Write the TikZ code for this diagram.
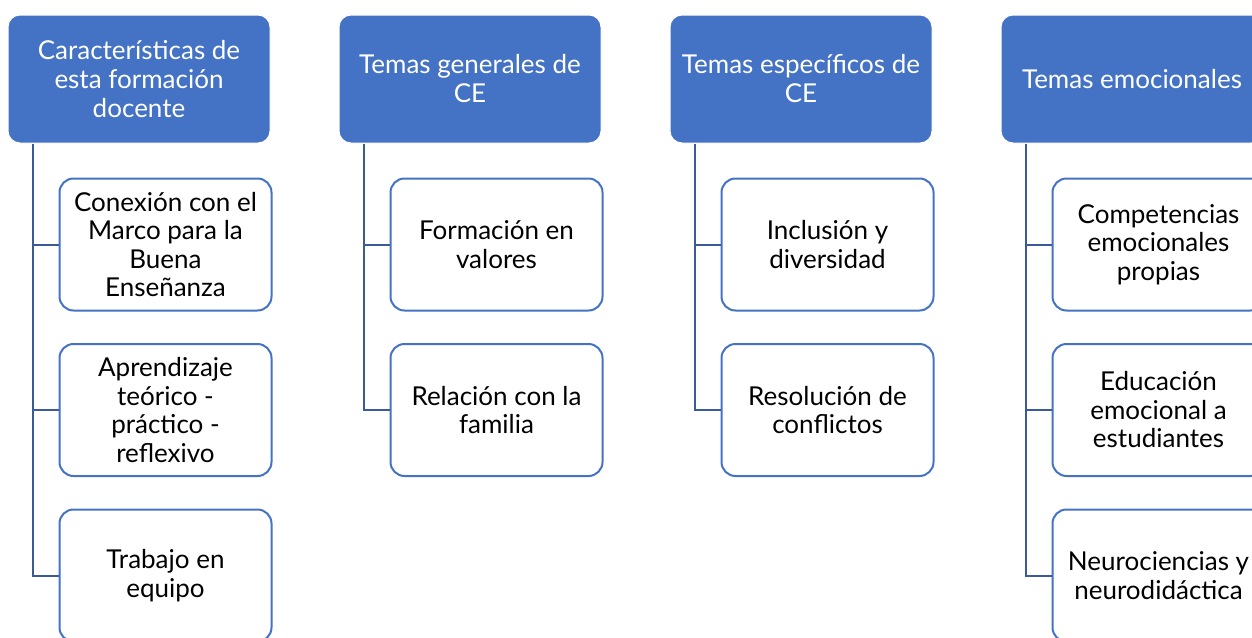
\documentclass[tikz,border=0pt]{standalone}
\usepackage{fontspec}
\setmainfont{Lato}
\definecolor{hdr}{HTML}{4472C4}
\definecolor{lnk}{HTML}{3A5A99}
\begin{document}
\begin{tikzpicture}[x=1pt,y=-1pt,
  hbox/.style={draw=white,line width=1pt,fill=hdr,rounded corners=12pt,minimum width=262pt,minimum height=128pt,text=white,align=center,font=\fontsize{26}{29}\selectfont,inner sep=0pt},
  cbox/.style={draw=hdr,line width=2pt,fill=white,rounded corners=14pt,minimum width=212pt,minimum height=132pt,text=black,align=center,font=\fontsize{26}{28.5}\selectfont,inner sep=0pt},
  link/.style={draw=lnk,line width=2pt}]
\useasboundingbox (0,0) rectangle (1252,637);
% headers
\node[hbox] (h1) at (139,79) {Características de\\esta formación\\docente};
\node[hbox] (h2) at (470,79) {Temas generales de\\CE};
\node[hbox] (h3) at (801,79) {Temas específicos de\\CE};
\node[hbox] (h4) at (1132,79) {Temas emocionales};
% children col 1
\node[cbox] (c11) at (165.5,244.5) {Conexión con el\\Marco para la\\Buena\\Enseñanza};
\node[cbox] (c12) at (165.5,410) {Aprendizaje\\teórico -\\práctico -\\reflexivo};
\node[cbox] (c13) at (165.5,575.5) {Trabajo en\\equipo};
% col 2
\node[cbox] (c21) at (496.5,244.5) {Formación en\\valores};
\node[cbox] (c22) at (496.5,410) {Relación con la\\familia};
% col 3
\node[cbox] (c31) at (827.5,244.5) {Inclusión y\\diversidad};
\node[cbox] (c32) at (827.5,410) {Resolución de\\conflictos};
% col 4
\node[cbox] (c41) at (1158.5,244.5) {Competencias\\emocionales\\propias};
\node[cbox] (c42) at (1158.5,410) {Educación\\emocional a\\estudiantes};
\node[cbox] (c43) at (1158.5,575.5) {Neurociencias y\\neurodidáctica};
% links
\foreach \h/\c in {h1/c11,h1/c12,h1/c13,h2/c21,h2/c22,h3/c31,h3/c32,h4/c41,h4/c42,h4/c43}{
  \draw[link] ([xshift=25pt,yshift=-0.5pt]\h.south west) |- (\c.west);
}
\end{tikzpicture}
\end{document}
